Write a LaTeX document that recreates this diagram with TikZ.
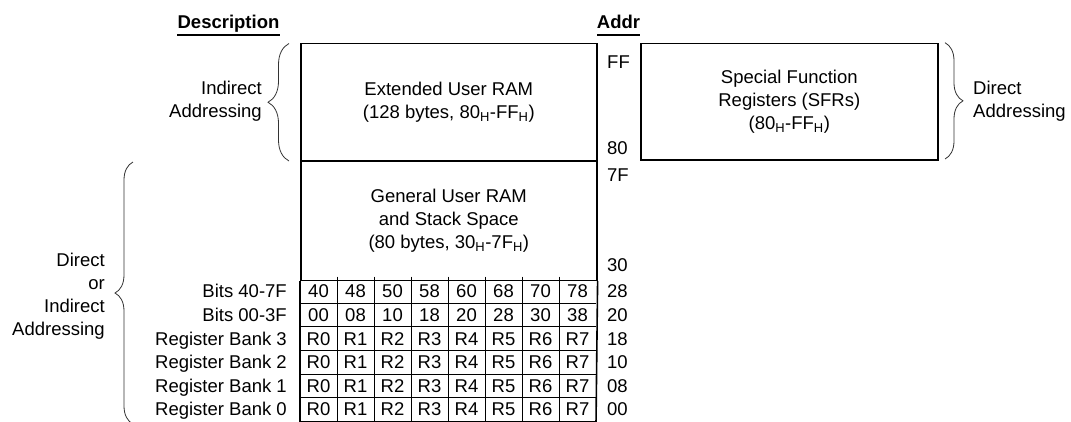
\documentclass[tikz,border=0pt]{standalone}
\usepackage{fontspec}
\setmainfont{Liberation Sans}
\usetikzlibrary{decorations.pathreplacing}
\begin{document}
\begin{tikzpicture}[x=1pt,y=-1pt,
  membox/.style={draw, line width=1.6pt, inner sep=0pt, anchor=north west, align=center,
    font=\fontsize{18.5}{23}\selectfont},
  txt/.style={font=\fontsize{18.5}{23}\selectfont, inner sep=0pt},
  hdr/.style={font=\fontsize{18.5}{22}\selectfont\bfseries, inner sep=0pt, anchor=base},
  brc/.style={decorate, decoration={brace, amplitude=#1}, line width=0.8pt, black!80},
  brc/.default=18pt,
  thinline/.style={line width=0.8pt},
  thickline/.style={line width=1.6pt},
  uline/.style={line width=1.4pt}]
\useasboundingbox (0,0) rectangle (1071,421);
\clip (0,0) rectangle (1071,421);

% headers
\node[hdr] (dh) at (228.5,28) {Description};
\node[hdr] (ah) at (618.5,28) {Addr};
\coordinate (dh1) at (177,35); \coordinate (dh2) at (280,35);
\coordinate (ah1) at (597,35); \coordinate (ah2) at (640,35);
\draw[uline] (dh1) -- (dh2);
\draw[uline] (ah1) -- (ah2);

% memory boxes
\node[membox, minimum width=296pt, minimum height=117.3pt] (ext) at (300,42.7)
  {Extended User RAM\\(128 bytes, 80\textsubscript{H}-FF\textsubscript{H})};
\node[membox, minimum width=296pt, minimum height=119.5pt] (gen) at (300,160)
  {General User RAM\\and Stack Space\\(80 bytes, 30\textsubscript{H}-7F\textsubscript{H})};
\node[membox, minimum width=297pt, minimum height=116.3pt] (sfr) at (640,42.7)
  {Special Function\\Registers (SFRs)\\(80\textsubscript{H}-FF\textsubscript{H})};

% grid outline
\coordinate (gbl) at (300,424);
\coordinate (gbr) at (596,424);
\draw[thickline] (gen.south west) -- (gbl);
\draw[thickline] (gen.south east) -- (gbr);
\foreach \k in {1,...,6} {
  \coordinate (rl\k) at (300,{279.5+23.6*\k});
  \coordinate (rr\k) at (596,{279.5+23.6*\k});
  \draw[thinline] (rl\k) -- (rr\k);
}
\foreach \k in {1,...,7} {
  \coordinate (ct\k) at ({300+37*\k},276.5);
  \coordinate (cb\k) at ({300+37*\k},424);
  \draw[thinline] (ct\k) -- (cb\k);
}

% cell contents
\foreach \v [count=\c from 0] in {40,48,50,58,60,68,70,78}
  \node[txt, anchor=base] (c0\c) at ({318.5+37*\c},{291.3+6.6}) {\v};
\foreach \v [count=\c from 0] in {00,08,10,18,20,28,30,38}
  \node[txt, anchor=base] (c1\c) at ({318.5+37*\c},{314.9+6.6}) {\v};
\foreach \r in {2,...,5}
  \foreach \c in {0,...,7}
    \node[txt, anchor=base] (c\r\c) at ({318.5+37*\c},{291.3+23.6*\r+6.6}) {R\c};

% row labels
\foreach \t [count=\r from 0] in {Bits 40-7F,Bits 00-3F,Register Bank 3,Register Bank 2,Register Bank 1,Register Bank 0}
  \node[txt, anchor=base east] (lab\r) at (287,{291.3+23.6*\r+6.6}) {\t};

% address labels
\node[txt, anchor=base west] (aFF) at (607,{62+6.6}) {FF};
\node[txt, anchor=base west] (a80) at (607,{148+6.6}) {80};
\node[txt, anchor=base west] (a7F) at (607,{175+6.6}) {7F};
\node[txt, anchor=base west] (a30) at (607,{265+6.6}) {30};
\foreach \t [count=\r from 0] in {28,20,18,10,08,00}
  \node[txt, anchor=base west] (ar\r) at (607,{291.3+23.6*\r+6.6}) {\t};

% braces
\coordinate (b1s) at (289,161);  \coordinate (b1e) at (289,43.5);
\draw[brc=21pt] (b1s) -- (b1e);
\node[txt, align=right, anchor=east] (ind) at (262,101.5) {Indirect\\Addressing};

\coordinate (b2s) at (945,42.7); \coordinate (b2e) at (945,159);
\draw[brc] (b2s) -- (b2e);
\node[txt, align=left, anchor=west] (dir) at (973,101) {Direct\\Addressing};

\coordinate (b3s) at (133,424); \coordinate (b3e) at (133,162);
\draw[brc] (b3s) -- (b3e);
\node[txt, align=right, anchor=east] (doi) at (105,296) {Direct\\or\\Indirect\\Addressing};
\end{tikzpicture}
\end{document}
